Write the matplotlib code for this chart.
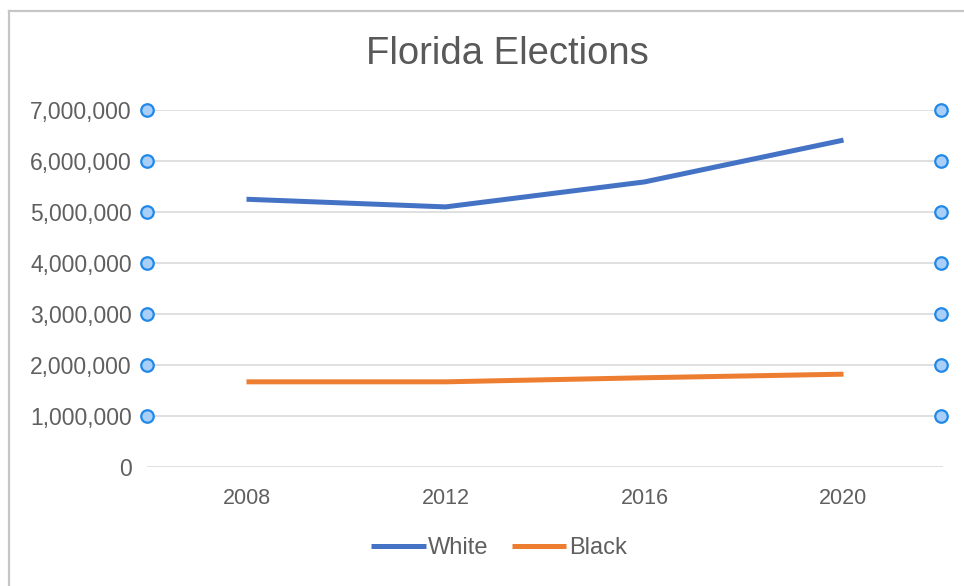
import matplotlib
matplotlib.use("Agg")
import matplotlib.pyplot as plt
from matplotlib.lines import Line2D
from matplotlib.ticker import FuncFormatter

years = ["2008", "2012", "2016", "2020"]
white = [5250000, 5100000, 5590000, 6410000]
black = [1670000, 1670000, 1750000, 1820000]
yticks = [0, 1000000, 2000000, 3000000, 4000000, 5000000, 6000000, 7000000]

plt.rcParams['font.family'] = ['Liberation Sans', 'DejaVu Sans']
text_color = '#5f5f5f'

fig = plt.figure(figsize=(9.64, 5.86), dpi=100)
ax = fig.add_axes([147/964, 1-467/586, (943-147)/964, (467-110)/586])

x = list(range(len(years)))
ax.plot(x, white, color='#4472c4', lw=3.6, solid_capstyle='butt', label='White')
ax.plot(x, black, color='#ed7d31', lw=3.6, solid_capstyle='butt', label='Black')

ax.set_xlim(-0.5, 3.5)
ax.set_ylim(0, 7000000)
ax.set_yticks(yticks)
ax.yaxis.set_major_formatter(FuncFormatter(lambda v, p: f"{int(v):,}"))
ax.set_xticks(x)
ax.set_xticklabels(years)
ax.grid(axis='y', color='#dadada', lw=1.2)
ax.set_axisbelow(True)
for s in ax.spines.values():
    s.set_visible(False)
ax.tick_params(axis='y', length=0, pad=11, labelsize=16.5, labelcolor=text_color)
ax.tick_params(axis='x', length=0, pad=15, labelsize=15.5, labelcolor=text_color)

# selection handle markers
handle_vals = yticks[1:]
for xv in (-0.5, 3.49):
    ax.plot([xv]*len(handle_vals), handle_vals, ls='none', marker='o', ms=9,
            mfc='#a9cff8', mec='#1f88e8', mew=1.6, clip_on=False, zorder=5)

fig.text(507/964, 1-54/586, "Florida Elections", ha='center', va='center',
         fontsize=27.5, color='#595959')

leg = fig.legend(loc='center', bbox_to_anchor=(499/964, 1-548/586), ncol=2,
                 frameon=False, fontsize=17, handlelength=2.3, handletextpad=0.1,
                 columnspacing=1.0, labelcolor=text_color)

# outer frame (screenshot border)
fig.add_artist(Line2D([9/964, 9/964], [0, 1-11/586], color='#c6c6c6', lw=1.6,
                      transform=fig.transFigure))
fig.add_artist(Line2D([9/964, 1], [1-11/586, 1-11/586], color='#c6c6c6', lw=1.6,
                      transform=fig.transFigure))

fig.savefig("out.png", dpi=100, facecolor='white')
